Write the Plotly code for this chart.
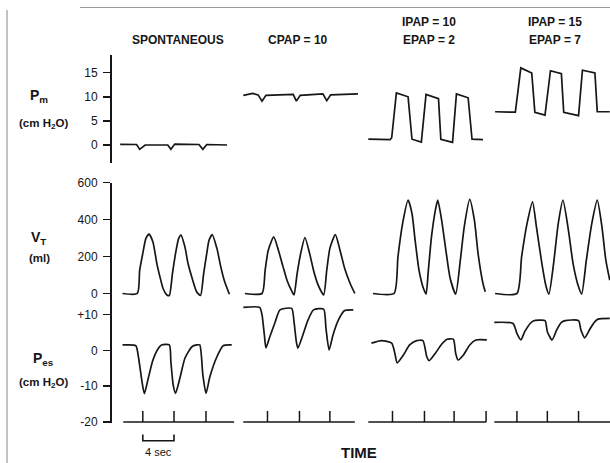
import plotly.graph_objects as go

# ---------------- data ----------------
TITLE_TOP = ["", "", "IPAP = 10", "IPAP = 15"]
TITLE_BOTTOM = ["SPONTANEOUS", "CPAP = 10", "EPAP = 2", "EPAP = 7"]

# Mask pressure Pm (cm H2O); time in s from start of each panel
PM_SPONT_T = [-0.4, 1.7, 2.1, 2.8, 5.7, 6.1, 6.6, 9.7, 10.2, 10.7, 13.3]
PM_SPONT_V = [0.15, 0.1, -0.9, 0.0, 0.0, -0.9, 0.2, 0.1, -0.9, 0.1, 0.0]
PM_CPAP_T = [0.0, 1.2, 1.9, 2.4, 2.9, 6.4, 6.8, 7.3, 10.2, 10.7, 11.2, 14.7]
PM_CPAP_V = [10.3, 10.7, 10.4, 9.1, 10.3, 10.5, 9.1, 10.3, 10.6, 9.2, 10.4, 10.6]
PM_BI10_T = [0.0, 2.8, 3.0, 3.6, 5.1, 5.6, 6.8, 7.4, 9.0, 9.3, 10.8, 11.3, 12.8, 13.3, 14.7]
PM_BI10_V = [1.2, 1.1, 1.5, 10.8, 10.0, 1.2, 0.6, 10.5, 9.6, 1.2, 0.55, 10.6, 9.8, 1.2, 1.1]
PM_BI15_T = [0.1, 2.7, 3.4, 4.8, 5.2, 6.5, 7.2, 8.6, 8.9, 10.8, 11.3, 12.9, 13.2, 14.8]
PM_BI15_V = [6.9, 6.8, 16.0, 14.95, 6.8, 6.2, 15.4, 14.8, 6.8, 6.1, 15.5, 14.95, 6.9, 6.9]

# Tidal volume VT (ml)
VT_SPONT_T = [-0.1, 1.8, 2.1, 2.5, 2.9, 3.3, 3.8, 4.3, 4.7, 5.1, 5.6, 5.9, 6.3, 6.7, 7.1, 7.4,
              7.9, 8.3, 8.9, 9.4, 9.9, 10.3, 10.7, 11.0, 11.4, 12.0, 12.5, 13.0, 13.6]
VT_SPONT_V = [0, 0, 126, 217, 298, 321, 279, 162, 90, 27, -8, -11, 108, 217, 298, 316,
              252, 162, 72, 9, -11, 108, 217, 289, 319, 244, 144, 63, -4]
VT_CPAP_T = [0.2, 2.4, 2.8, 3.2, 3.9, 4.5, 5.1, 5.6, 6.2, 6.5, 6.9, 7.4, 7.9, 8.5, 9.0, 9.6,
             10.3, 10.7, 11.1, 11.8, 12.4, 13.0, 13.7, 14.3]
VT_CPAP_V = [0, 0, 126, 234, 306, 234, 144, 72, 14, -8, 108, 225, 303, 217, 126, 45,
             -8, 126, 244, 319, 234, 135, 54, 0]
VT_BI10_T = [0.6, 3.3, 3.8, 4.4, 5.1, 5.6, 6.0, 6.5, 7.0, 7.4, 7.7, 8.1, 8.6, 8.9, 9.4, 10.0,
             10.5, 11.2, 11.8, 12.3, 13.0, 13.6, 14.1, 14.7, 15.0]
VT_BI10_V = [0, 0, 198, 379, 505, 433, 289, 126, 36, -3, 126, 306, 451, 505, 397, 217,
             81, -3, 180, 361, 509, 397, 207, 54, 9]
VT_BI15_T = [0.1, 2.9, 3.5, 4.2, 4.9, 5.4, 6.1, 6.6, 7.0, 7.6, 8.2, 8.8, 9.5, 10.1, 10.8,
             11.2, 11.8, 12.5, 13.2, 13.8, 14.3, 14.8]
VT_BI15_V = [0, 0, 198, 379, 496, 361, 162, 45, -3, 162, 379, 505, 343, 162, 36,
             -3, 180, 379, 505, 361, 180, 72]

# Esophageal pressure Pes (cm H2O)
PES_SPONT_T = [-0.1, 1.6, 1.9, 2.4, 2.7, 3.2, 3.8, 4.5, 4.9, 5.9, 6.1, 6.4, 6.7, 7.3, 7.9,
               8.8, 9.4, 9.8, 10.2, 10.6, 11.1, 12.0, 12.8, 13.9]
PES_SPONT_V = [1.5, 1.3, -1.3, -8.8, -12.1, -7.8, -2.7, 0.6, 1.5, 1.5, -3.2, -9.7, -12.0, -7.4, -2.2,
               1.0, 1.5, 1.5, -6.9, -12.0, -7.4, -1.8, 1.3, 1.5]
PES_CPAP_T = [0.0, 2.1, 2.4, 2.7, 2.9, 3.4, 4.1, 4.7, 6.2, 6.5, 6.8, 7.0, 7.7, 8.3, 9.0,
              10.3, 10.6, 11.0, 11.5, 12.2, 13.0, 14.1]
PES_CPAP_V = [12.0, 12.0, 9.9, 4.3, 0.7, 3.8, 8.0, 11.3, 11.7, 8.0, 2.4, 0.6, 4.7, 8.5, 11.3,
              11.5, 6.1, 0.1, 4.3, 8.5, 11.1, 11.3]
PES_BI10_T = [0.4, 1.7, 3.0, 3.4, 3.7, 4.5, 5.3, 6.2, 7.0, 7.5, 7.8, 8.6, 9.4, 10.1, 10.9,
              11.2, 11.5, 12.2, 13.0, 13.8, 15.2]
PES_BI10_V = [2.0, 2.7, 2.0, -0.8, -3.5, -1.3, 1.5, 2.7, 2.7, -1.8, -2.9, -0.8, 1.7, 3.1, 3.1,
              -0.8, -2.7, -1.3, 1.5, 2.9, 2.9]
PES_BI15_T = [0.0, 2.4, 2.9, 3.4, 3.9, 4.6, 5.0, 6.5, 6.8, 7.4, 8.0, 8.6, 9.1, 10.8, 11.1,
              11.6, 12.3, 12.9, 13.3, 14.8]
PES_BI15_V = [7.8, 7.5, 4.7, 2.9, 5.2, 7.5, 8.2, 8.3, 5.2, 2.9, 5.7, 7.8, 8.3, 8.3, 5.7,
              3.5, 6.1, 8.0, 8.7, 8.9]

# Time markers (s) and time-line length per panel
TICKS_SPONT = [2.5, 6.5, 10.6]
TICKS_CPAP = [3.1, 7.2, 11.1]
TICKS_BI10 = [3.1, 7.2, 11.0, 15.1]
TICKS_BI15 = [2.9, 6.8, 10.8]
TIMELINE_END = [14.2, 14.3, 15.1, 15.2]
SCALE_BAR_S = 4

PM_TICKS = [0, 5, 10, 15]
VT_TICKS = [0, 200, 400, 600]
PES_TICKS = [10, 0, -10, -20]
PES_TICKTEXT = ["+10", "0", "-10", "-20"]

# ---------------- layout helpers ----------------
W, H = 610, 463
PX_PER_S = 7.8
AXIS_PX = 110
XMIN = -AXIS_PX / PX_PER_S
XMAX = (W - AXIS_PX) / PX_PER_S
PANEL_X0 = [(p - AXIS_PX) / PX_PER_S for p in (123.3, 243.3, 368.3, 494.3)]


def fx(px):
    return px / W


def fy(py):
    return 1 - py / H


INK = "#161616"
FONT = "Liberation Sans, Arial, Helvetica, sans-serif"

fig = go.Figure()

pm = [(PM_SPONT_T, PM_SPONT_V), (PM_CPAP_T, PM_CPAP_V), (PM_BI10_T, PM_BI10_V), (PM_BI15_T, PM_BI15_V)]
vt = [(VT_SPONT_T, VT_SPONT_V), (VT_CPAP_T, VT_CPAP_V), (VT_BI10_T, VT_BI10_V), (VT_BI15_T, VT_BI15_V)]
pes = [(PES_SPONT_T, PES_SPONT_V), (PES_CPAP_T, PES_CPAP_V), (PES_BI10_T, PES_BI10_V), (PES_BI15_T, PES_BI15_V)]
ticks = [TICKS_SPONT, TICKS_CPAP, TICKS_BI10, TICKS_BI15]

for c in range(4):
    off = PANEL_X0[c]
    t, v = pm[c]
    fig.add_trace(go.Scatter(x=[off + a for a in t], y=v, mode="lines", yaxis="y",
                             line=dict(color=INK, width=1.7), hoverinfo="skip"))
    t, v = vt[c]
    fig.add_trace(go.Scatter(x=[off + a for a in t], y=v, mode="lines", yaxis="y2",
                             line=dict(color=INK, width=1.7, shape="spline", smoothing=0.6),
                             hoverinfo="skip"))
    t, v = pes[c]
    fig.add_trace(go.Scatter(x=[off + a for a in t], y=v, mode="lines", yaxis="y3",
                             line=dict(color=INK, width=1.7, shape="spline", smoothing=0.6),
                             hoverinfo="skip"))
    # time line with breath markers
    xs = [off, off + TIMELINE_END[c]]
    ys = [-20, -20]
    for tk in ticks[c]:
        xs += [None, off + tk, off + tk]
        ys += [None, -20, -16.9]
    fig.add_trace(go.Scatter(x=xs, y=ys, mode="lines", yaxis="y4",
                             line=dict(color=INK, width=1.5), hoverinfo="skip"))

axis_common = dict(anchor="free", position=fx(AXIS_PX), showgrid=False, zeroline=False,
                   showline=True, linecolor=INK, linewidth=1.5, ticks="outside", ticklen=7,
                   tickwidth=1.5, tickcolor=INK, ticklabelstandoff=3, automargin=False,
                   tickfont=dict(family=FONT, size=12, color=INK))

fig.update_layout(
    width=W, height=H, margin=dict(l=0, r=0, t=0, b=0, autoexpand=False),
    paper_bgcolor="white", plot_bgcolor="rgba(0,0,0,0)", showlegend=False,
    xaxis=dict(range=[XMIN, XMAX], domain=[0, 1], visible=False),
    yaxis=dict(domain=[fy(163), fy(55)], range=[(145 - 163) / 4.82, (145 - 55) / 4.82],
               tickvals=PM_TICKS, ticktext=[str(v) for v in PM_TICKS], **axis_common),
    yaxis2=dict(domain=[fy(303), fy(182.5)], range=[(293.5 - 303) * 600 / 110.8, 600.5],
                tickvals=VT_TICKS, ticktext=[str(v) for v in VT_TICKS], **axis_common),
    yaxis3=dict(domain=[fy(422.5), fy(303)], range=[-20.15, (350.3 - 303) / 3.58],
                tickvals=PES_TICKS, ticktext=PES_TICKTEXT, **axis_common),
    yaxis4=dict(domain=[fy(432), fy(405)], range=[-20 - 10 / 3.58, -20 + 17 / 3.58],
                anchor="free", position=0, visible=False),
)

# scale bar (4 s)
s0 = PANEL_X0[0] + TICKS_SPONT[0]
s1 = s0 + SCALE_BAR_S
fig.add_shape(type="path", xref="x", yref="paper",
              path=f"M {s0},{fy(434.5)} L {s0},{fy(440.7)} L {s1},{fy(440.7)} L {s1},{fy(434.5)}",
              line=dict(color=INK, width=1.6))
fig.add_annotation(x=(s0 + s1) / 2, y=fy(452), xref="x", yref="paper", text="4 sec",
                   xanchor="center", yanchor="middle", showarrow=False,
                   font=dict(family=FONT, size=11, color=INK))

# scan frame lines
fig.add_shape(type="line", xref="paper", yref="paper", x0=fx(7), x1=fx(7), y0=fy(10), y1=fy(463),
              line=dict(color="#9a9a9a", width=1.2))
fig.add_shape(type="line", xref="paper", yref="paper", x0=fx(80), x1=fx(610), y0=fy(7.5), y1=fy(7.5),
              line=dict(color="#9a9a9a", width=1.2))

# panel titles
title_cx = [178.3, 297.5, 428.5, 555.0]
for c in range(4):
    if TITLE_TOP[c]:
        fig.add_annotation(x=fx(title_cx[c]), y=fy(22), xref="paper", yref="paper",
                           text=TITLE_TOP[c], showarrow=False, xanchor="center", yanchor="middle",
                           font=dict(family=FONT, size=12, color=INK, weight="bold"))
    fig.add_annotation(x=fx(title_cx[c]), y=fy(40), xref="paper", yref="paper",
                       text=TITLE_BOTTOM[c], showarrow=False, xanchor="center", yanchor="middle",
                       font=dict(family=FONT, size=12, color=INK, weight="bold"))

# row labels
labels = [
    ("P<sub>m</sub>", 39, 96, 14),
    ("(cm H<sub>2</sub>O)", 43, 124, 11.5),
    ("V<sub>T</sub>", 38, 238, 14),
    ("(ml)", 39, 258, 11.5),
    ("P<sub>es</sub>", 43, 359, 14),
    ("(cm H<sub>2</sub>O)", 43, 383, 11.5),
]
for txt, x, y, s in labels:
    fig.add_annotation(x=fx(x), y=fy(y), xref="paper", yref="paper", text=txt, showarrow=False,
                       xanchor="center", yanchor="middle",
                       font=dict(family=FONT, size=s, color=INK, weight="bold"))

fig.add_annotation(x=fx(358.5), y=fy(452), xref="paper", yref="paper", text="TIME",
                   xanchor="center", yanchor="middle", showarrow=False,
                   font=dict(family=FONT, size=15, color=INK, weight="bold"))

fig.write_html("out.html", config={"displayModeBar": False, "staticPlot": True},
               post_script="document.body.style.margin='0px';")
